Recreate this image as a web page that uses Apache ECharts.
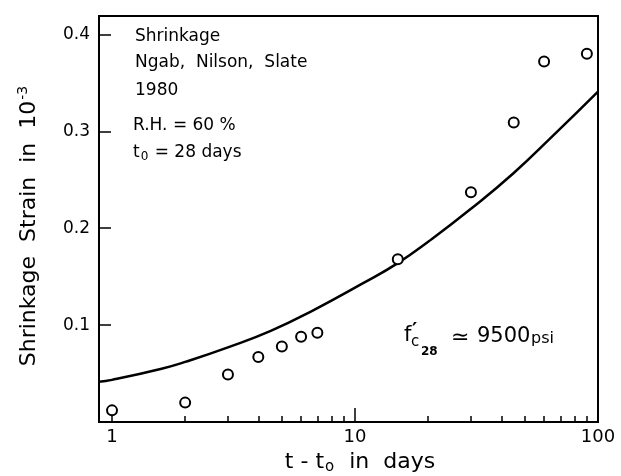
<!DOCTYPE html>
<html>
<head>
<meta charset="utf-8">
<script src="https://cdn.jsdelivr.net/npm/echarts@6/dist/echarts.min.js"></script>
<style>
html,body{margin:0;padding:0;background:#fff;}
#chart{width:621px;height:476px;}
</style>
</head>
<body>
<div id="chart"></div>
<script>
// ---- data ----
const curveT = [0.884, 1, 1.6, 2, 3, 4.5, 6.7, 10.75, 15, 20, 30, 45, 65, 100];
const curveStrain = [0.0416, 0.0435, 0.055, 0.062, 0.077, 0.094, 0.115, 0.143, 0.164, 0.186, 0.220, 0.257, 0.295, 0.341];
const obsT = [1, 2, 3, 4, 5, 6, 7, 15, 30, 45, 60, 90];
const obsStrain = [0.012, 0.020, 0.049, 0.067, 0.078, 0.088, 0.092, 0.168, 0.237, 0.309, 0.372, 0.380];
const xMajorTicks = [1, 10, 100];
const xMinorTicks = [2, 3, 4, 5, 6, 7, 8, 9, 20, 30, 40, 50, 60, 70, 80, 90];
const yTicks = [0.1, 0.2, 0.3, 0.4];
const xMin = 0.884, xMax = 100, yMin = 0, yMax = 0.419;

const FONT = 'DejaVu Sans';
const chart = echarts.init(document.getElementById('chart'));

const curveData = curveT.map((t, i) => [t, curveStrain[i]]);
const obsData = obsT.map((t, i) => [t, obsStrain[i]]);

chart.setOption({
  animation: false,
  backgroundColor: '#fff',
  grid: {left: 99, right: 23, top: 16, bottom: 54, show: true, borderColor: '#000', borderWidth: 2},
  xAxis: [
    {
      type: 'log', min: xMin, max: xMax, position: 'bottom',
      axisLine: {show: true, lineStyle: {color: '#000', width: 2}},
      axisTick: {show: true, inside: true, length: 14, customValues: xMajorTicks, lineStyle: {color: '#000', width: 1.5}},
      axisLabel: {show: true, customValues: xMajorTicks, margin: 6, color: '#000', fontFamily: FONT, fontSize: 18},
      splitLine: {show: false}, minorTick: {show: false}
    },
    {
      type: 'log', min: xMin, max: xMax, position: 'bottom',
      axisLine: {show: false},
      axisTick: {show: true, inside: true, length: 6, customValues: xMinorTicks, lineStyle: {color: '#000', width: 1.5}},
      axisLabel: {show: false},
      splitLine: {show: false}
    }
  ],
  yAxis: {
    type: 'value', min: yMin, max: yMax,
    axisLine: {show: true, lineStyle: {color: '#000', width: 2}},
    axisTick: {show: true, inside: true, length: 12, customValues: yTicks, lineStyle: {color: '#000', width: 1.5}},
    axisLabel: {show: true, customValues: yTicks, margin: 9, color: '#000', fontFamily: FONT, fontSize: 17,
      formatter: v => v.toFixed(1)},
    splitLine: {show: false}
  },
  series: [
    {
      type: 'line', xAxisIndex: 0, data: curveData, smooth: 0.5, showSymbol: false,
      lineStyle: {color: '#000', width: 2.5}, z: 2
    },
    {
      type: 'scatter', xAxisIndex: 0, data: obsData, symbol: 'emptyCircle', symbolSize: 10,
      itemStyle: {color: '#000', borderColor: '#000', borderWidth: 2.2, opacity: 1}, z: 3
    }
  ],
  graphic: [
    {type: 'text', left: 135, top: 28, style: {text: 'Shrinkage', font: '17px "DejaVu Sans"', fill: '#000'}},
    {type: 'text', left: 135, top: 54, style: {text: 'Ngab,  Nilson,  Slate', font: '17px "DejaVu Sans"', fill: '#000'}},
    {type: 'text', left: 135, top: 82, style: {text: '1980', font: '17px "DejaVu Sans"', fill: '#000'}},
    {type: 'text', left: 133, top: 117, style: {text: 'R.H. = 60 %', font: '17px "DejaVu Sans"', fill: '#000'}},
    {type: 'text', left: 133, top: 144, style: {
      text: '{m|t}{s|0}{m| = 28 days}', fill: '#000',
      rich: {m: {fontFamily: FONT, fontSize: 17}, s: {fontFamily: FONT, fontSize: 12, padding: [8, 1, 0, 1]}}
    }},
    // f'c28 ≃ 9500 psi
    {type: 'text', left: 404, top: 325, style: {text: 'f', font: '21px "DejaVu Sans"', fill: '#000'}},
    {type: 'text', left: 412, top: 321, style: {text: '\u2032', font: 'bold 20px "DejaVu Sans"', fill: '#000'}},
    {type: 'text', left: 411, top: 335, style: {text: 'c', font: '15px "DejaVu Sans"', fill: '#000'}},
    {type: 'text', left: 421, top: 346, style: {text: '28', font: 'bold 12px "DejaVu Sans"', fill: '#000'}},
    {type: 'text', left: 451, top: 327, style: {text: '\u2243', font: '22px "DejaVu Sans"', fill: '#000'}},
    {type: 'text', left: 477, top: 326, style: {text: '9500', font: '21px "DejaVu Sans"', fill: '#000'}},
    {type: 'text', left: 531, top: 331, style: {text: 'psi', font: '16px "DejaVu Sans"', fill: '#000'}},
    // axis titles
    {type: 'text', x: 29, y: 226, rotation: Math.PI / 2, style: {
      text: '{m|Shrinkage  Strain  in  10}{p|-3}', fill: '#000', align: 'center', verticalAlign: 'middle',
      rich: {m: {fontFamily: FONT, fontSize: 22}, p: {fontFamily: FONT, fontSize: 14, padding: [0, 0, 12, 1]}}
    }},
    {type: 'text', x: 360, y: 462, style: {
      text: '{m|t - t}{s|o}{m|  in  days}', fill: '#000', align: 'center', verticalAlign: 'middle',
      rich: {m: {fontFamily: FONT, fontSize: 22}, s: {fontFamily: FONT, fontSize: 15, padding: [10, 1, 0, 1]}}
    }}
  ]
});
</script>
</body>
</html>
